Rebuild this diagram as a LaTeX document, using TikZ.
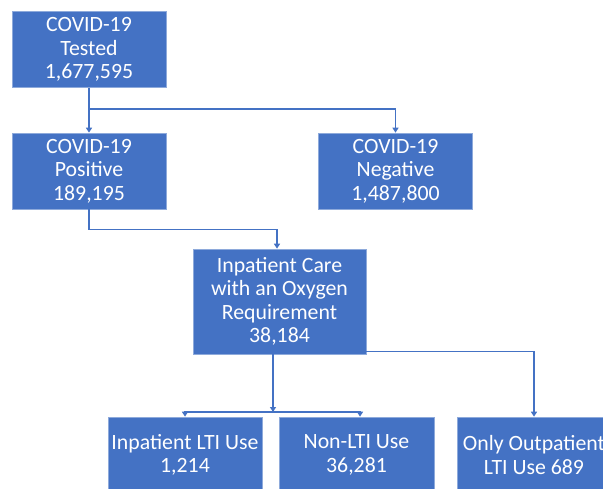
\documentclass[tikz,border=0pt]{standalone}
\usepackage{fontspec}
\setmainfont{Carlito}
\usetikzlibrary{arrows.meta}
\definecolor{boxblue}{HTML}{4472C4}
\definecolor{edgeblue}{HTML}{8EAADB}
\begin{document}
\begin{tikzpicture}[x=1pt, y=-1pt,
        box/.style={draw=edgeblue, line width=0.6pt, fill=boxblue, text=white,
            align=center, inner sep=0pt, minimum width=154pt, minimum height=76pt,
            font=\fontsize{21.8}{23.5}\selectfont},
        link/.style={draw=boxblue, line width=1.5pt, -{Triangle[width=6pt,length=5pt]}},
        line/.style={draw=boxblue, line width=1.5pt}]
        \useasboundingbox (0,0) rectangle (603,489);
        \clip (0,0) rectangle (603,489);
        % boxes
        \node[box] (tested) at (89, 49.5) {COVID-19\\Tested\\1,677,595};
        \node[box] (positive) at (89, 171) {COVID-19\\Positive\\189,195};
        \node[box] (negative) at (395.5, 171) {COVID-19\\Negative\\1,487,800};
        \node[box, minimum width=173pt, minimum height=105pt] (care) at (279.5, 301.5) {Inpatient Care\\with an Oxygen\\Requirement\\38,184};
        \node[box] (inlti) at (185, 455) {Inpatient LTI Use\\1,214};
        \node[box, minimum width=155pt] (nonlti) at (356.5, 455) {Non-LTI Use\\36,281};
        \node[box] (outpt) at (534, 455) {Only Outpatient\\LTI Use 689};
        \coordinate (fork) at (89, 109);
        \coordinate (split) at (273, 412);
        % connectors
        \draw[line] (tested.south) -- (fork);
        \draw[link] (fork) -- (positive.north);
        \draw[link] (fork) -| (negative.north);
        \draw[link] (positive.south) -- ++(0,20) -| ([xshift=-2.5pt]care.north);
        \draw[link] ([xshift=-6.5pt]care.south) -- (split);
        \draw[link] (split) -| (inlti.north);
        \draw[link] (split) -| ([xshift=3.5pt]nonlti.north);
        \draw[link] ([yshift=3pt]care.south east) -| (outpt.north);
    \end{tikzpicture}
\end{document}
